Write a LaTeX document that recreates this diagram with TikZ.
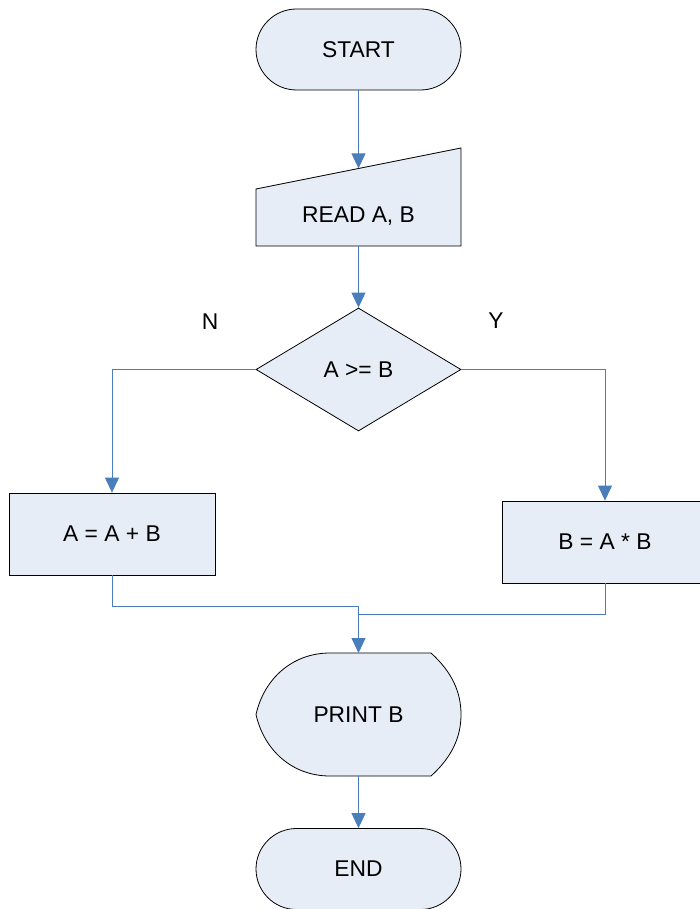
\documentclass[tikz,border=0pt]{standalone}
\usepackage{fontspec}
\setmainfont{Liberation Sans}
\usetikzlibrary{shapes.geometric,shapes.misc,arrows.meta}
\definecolor{boxfill}{HTML}{E7EDF7}
\definecolor{linkblue}{HTML}{4A7EBB}
\tikzset{
  shapebox/.style={draw=black, line width=0.8pt, fill=boxfill},
  txt/.style={font=\fontsize{22.8}{27}\selectfont, inner sep=0pt},
  terminal/.style={shapebox, rounded rectangle, minimum width=205pt, minimum height=81pt, txt},
  procbox/.style={shapebox, rectangle, minimum width=206pt, minimum height=82pt, txt},
  decision/.style={shapebox, diamond, minimum width=205pt, minimum height=123pt, txt},
  link/.style={draw=linkblue, line width=0.9pt},
  arrowlink/.style={link, -{Triangle[length=15pt,width=14pt]}},
}
\begin{document}
\begin{tikzpicture}[x=1pt,y=-1pt]
\useasboundingbox (0,0) rectangle (699,909);
% START
\node[terminal] (start) at (358.5,49.5) {START};
% READ (manual input)
\path[shapebox] (256,189) -- (461,148) -- (461,246) -- (256,246) -- cycle;
\node[txt] (read) at (358.5,216) {READ A, B};
\coordinate (readtop) at (358.5,168.4);
\coordinate (readbot) at (358.5,246);
% Decision
\node[decision] (dia) at (358.5,369.5) {A >= B};
% Process boxes
\node[procbox] (boxA) at (112,534) {A = A + B};
\node[procbox] (boxB) at (605,542) {B = A * B};
% PRINT (display)
\path[shapebox] (330,653) -- (431,653)
  .. controls (452,672) and (461,692) .. (461,714.5)
  .. controls (461,737) and (452,757) .. (431,776)
  -- (330,776)
  .. controls (292,776) and (264,750) .. (256,714.5)
  .. controls (264,679) and (292,653) .. (330,653) -- cycle;
\node[txt] (print) at (358.5,714.5) {PRINT B};
\coordinate (printtop) at (358.5,653);
\coordinate (printbot) at (358.5,776);
% END
\node[terminal] (end) at (358.5,869) {END};
% labels
\node[txt] (lblN) at (210,322) {N};
\node[txt] (lblY) at (496,321) {Y};
% connectors
\draw[arrowlink] (start.south) -- (readtop);
\draw[arrowlink] (readbot) -- (dia.north);
\draw[arrowlink] (dia.west) -| (boxA.north);
\draw[arrowlink] (dia.east) -| (boxB.north);
\coordinate (joinA) at (358.5,606);
\coordinate (joinB) at (358.5,614);
\draw[link] (boxA.south) |- (joinA);
\draw[link] (boxB.south) |- (joinB);
\draw[arrowlink] (joinA) -- (printtop);
\draw[arrowlink] (printbot) -- (end.north);
\end{tikzpicture}
\end{document}
